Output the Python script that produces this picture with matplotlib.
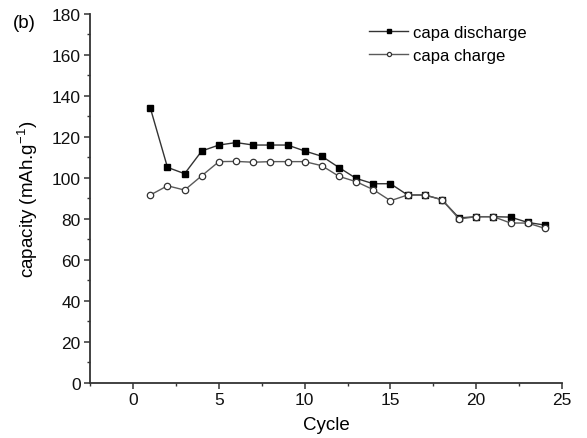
import matplotlib
matplotlib.use("Agg")
import matplotlib.pyplot as plt
from matplotlib.ticker import MultipleLocator

cycles = list(range(1, 25))
capa_discharge = [134.1, 105.1, 102.0, 113.1, 116.0, 117.2, 116.0, 116.0, 116.0, 113.1,
                  110.5, 105.0, 99.7, 97.1, 97.1, 91.6, 91.6, 89.3, 80.4, 81.0,
                  81.0, 80.8, 78.2, 76.9]
capa_charge = [91.6, 96.1, 94.0, 101.0, 107.9, 108.0, 107.6, 107.9, 107.9, 107.9,
               105.9, 100.7, 98.1, 94.2, 88.8, 91.6, 91.6, 89.3, 79.9, 81.0,
               81.0, 77.9, 77.9, 75.3]

plt.rcParams["font.family"] = ["Liberation Sans", "DejaVu Sans"]

fig = plt.figure(figsize=(5.87, 4.39), dpi=100)
ax = fig.add_axes([0.1538, 0.1264, 0.9574 - 0.1538, 0.9658 - 0.1264])

ax.plot(cycles, capa_discharge, color="#333333", lw=1.0, marker="s", ms=4.2,
        mfc="black", mec="black", label="capa discharge")
ax.plot(cycles, capa_charge, color="#5a5a5a", lw=1.0, marker="o", ms=4.6,
        mfc="white", mec="#333333", mew=0.9, label="capa charge")

ax.set_xlim(-2.5, 25)
ax.set_ylim(0, 180)
ax.xaxis.set_major_locator(MultipleLocator(5))
ax.xaxis.set_minor_locator(MultipleLocator(2.5))
ax.yaxis.set_major_locator(MultipleLocator(20))
ax.yaxis.set_minor_locator(MultipleLocator(10))

for side in ["top", "right"]:
    ax.spines[side].set_visible(False)
for side in ["left", "bottom"]:
    ax.spines[side].set_linewidth(1.3)
    ax.spines[side].set_color("#333333")

ax.tick_params(which="major", direction="out", length=4, width=1.1, color="#333333",
               labelsize=12.5, labelcolor="#111111", pad=3)
ax.tick_params(which="minor", direction="out", length=2.5, width=1.0, color="#333333")

ax.set_xlabel("Cycle", fontsize=13.5, labelpad=6)
ax.set_ylabel("capacity (mAh.g$^{\\mathregular{-1}}$)", fontsize=13.5, labelpad=8)

leg = ax.legend(loc="upper left", bbox_to_anchor=(0.56, 1.01), frameon=False,
                fontsize=12, handlelength=2.3, handletextpad=0.3, labelspacing=0.45,
                markerscale=0.65)

fig.text(0.022, 0.9476, "(b)", fontsize=13.5, ha="left", va="center")

fig.savefig("out.png", dpi=100)
